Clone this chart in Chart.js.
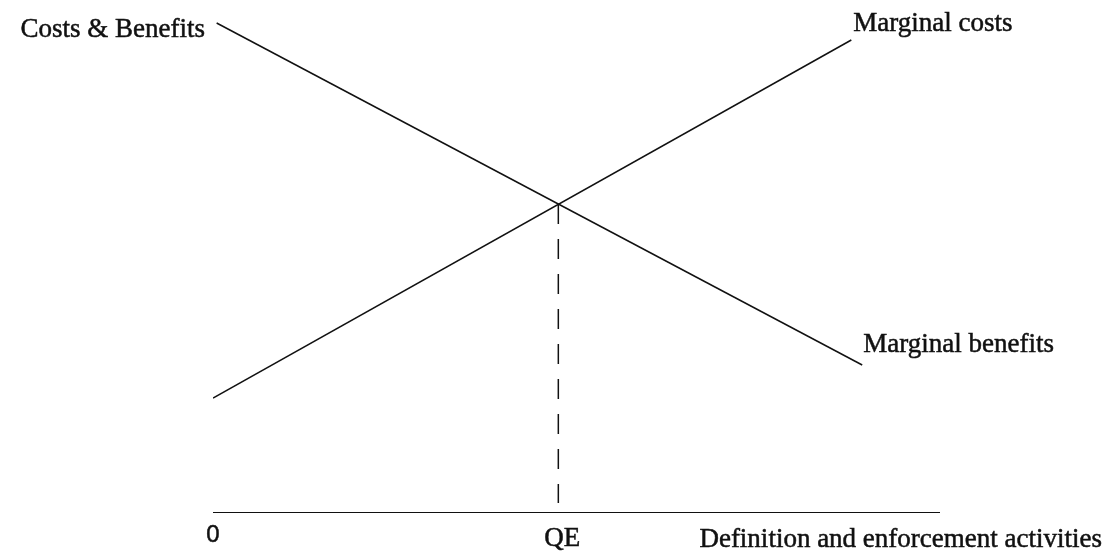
<!DOCTYPE html>
<html>
<head>
<meta charset="utf-8">
<script src="https://cdn.jsdelivr.net/npm/chart.js@4"></script>
<style>
  html, body { margin: 0; padding: 0; background: #fff; }
  #wrap { width: 1114px; height: 560px; }
</style>
</head>
<body>
<div id="wrap"><canvas id="mcmb-chart" width="1114" height="560"></canvas></div>
<script>
// activity level (x) and cost / benefit level (y)
var marginalCostX = [0, 8.78];
var marginalCostY = [2.3, 9.46];
var marginalBenefitX = [0.05, 8.93];
var marginalBenefitY = [9.8, 2.96];
var equilibriumX = 4.75;
var equilibriumY = 6.18;
var axisX = [0, 10];

var yTitle = "Costs & Benefits";
var xTitle = "Definition and enforcement activities";
var mcLabel = "Marginal costs";
var mbLabel = "Marginal benefits";
var qeLabel = "QE";
var originLabel = "0";

function pts(xs, ys) {
  return xs.map(function (x, i) { return {x: x, y: ys[i]}; });
}

var ink = "#111";

var data = {
  datasets: [
    {
      label: mcLabel,
      data: pts(marginalCostX, marginalCostY),
      borderColor: ink,
      borderWidth: 1.5
    },
    {
      label: mbLabel,
      data: pts(marginalBenefitX, marginalBenefitY),
      borderColor: ink,
      borderWidth: 1.5
    },
    {
      // dashed drop line to QE
      label: qeLabel,
      data: [{x: equilibriumX, y: equilibriumY}, {x: equilibriumX, y: 0.2}],
      borderColor: ink,
      borderWidth: 1.5,
      borderDash: [20, 15]
    },
    {
      // horizontal axis
      label: "axis",
      data: [{x: axisX[0], y: 0}, {x: axisX[1], y: 0}],
      borderColor: ink,
      borderWidth: 1.8
    }
  ]
};

// text labels drawn next to the marks
var textLabels = {
  id: "textLabels",
  afterDraw: function (chart) {
    var ctx = chart.ctx;
    var xs = chart.scales.x;
    ctx.save();
    ctx.fillStyle = ink;
    ctx.strokeStyle = ink;
    ctx.lineWidth = 0.5;
    ctx.textBaseline = "alphabetic";

    function put(txt, x, y, align) {
      ctx.textAlign = align;
      ctx.fillText(txt, x, y);
      ctx.strokeText(txt, x, y);
    }

    ctx.font = "27px 'Liberation Serif', serif";
    put(yTitle, 205, 37, "right");
    put(mcLabel, xs.getPixelForValue(marginalCostX[1]) + 2, 31, "left");
    put(mbLabel, xs.getPixelForValue(marginalBenefitX[1]) + 1, 352, "left");
    put(qeLabel, xs.getPixelForValue(equilibriumX) + 4, 546, "center");
    put(xTitle, 1102, 547, "right");

    ctx.font = "24px 'Liberation Sans', sans-serif";
    put(originLabel, xs.getPixelForValue(0), 542, "center");
    ctx.restore();
  }
};

var ctx = document.getElementById("mcmb-chart").getContext("2d");
var chart = new Chart(ctx, {
  type: "scatter",
  data: data,
  plugins: [textLabels],
  options: {
    responsive: false,
    animation: false,
    showLine: true,
    layout: {
      padding: {left: 213, right: 174, top: 13, bottom: 47}
    },
    elements: {
      point: {radius: 0, hoverRadius: 0},
      line: {tension: 0}
    },
    plugins: {
      legend: {display: false},
      tooltip: {enabled: false}
    },
    scales: {
      x: {type: "linear", min: 0, max: 10, display: false},
      y: {type: "linear", min: 0, max: 10, display: false}
    }
  }
});
</script>
</body>
</html>
